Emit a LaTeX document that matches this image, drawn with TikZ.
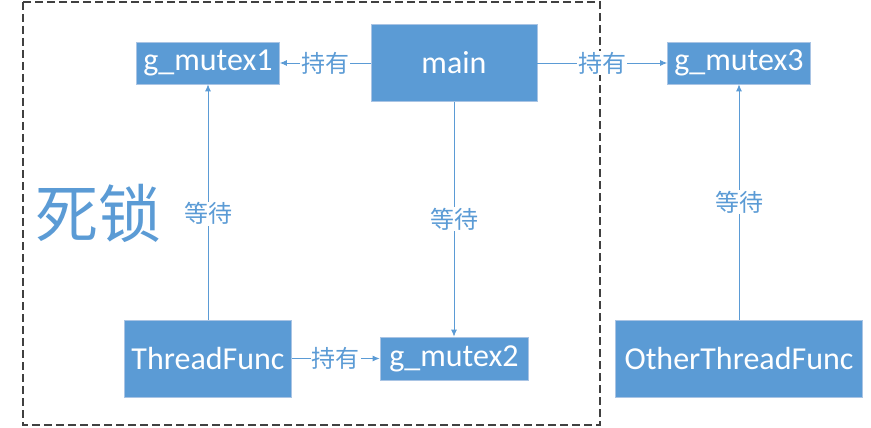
\documentclass[tikz,border=0pt]{standalone}
\usepackage{fontspec}
\setmainfont{Carlito}
\newfontfamily\cjk{Noto Sans CJK SC}
\usetikzlibrary{arrows.meta}
\definecolor{boxblue}{HTML}{5B9BD5}
\definecolor{boxline}{HTML}{A9C4E4}
\definecolor{framegray}{HTML}{404040}

\begin{document}
\begin{tikzpicture}[x=1pt,y=-1pt]
\tikzstyle{box}=[rectangle,fill=boxblue,draw=boxline,line width=0.8pt,text=white,font=\fontsize{32}{34}\selectfont,inner sep=0pt]
\tikzstyle{link}=[draw=boxblue,line width=0.8pt,-{Latex[length=7pt,width=6pt]}]
\tikzstyle{lbl}=[fill=white,text=boxblue,font=\cjk\fontsize{24}{26}\selectfont,inner sep=1pt]
\useasboundingbox (0,0) rectangle (871,428);
\draw[framegray,line width=1.3pt,dash pattern=on 8pt off 4pt] (23,2) rectangle (600,425);
\node[text=boxblue,font=\cjk\fontsize{63}{66}\selectfont] (deadlock) at (98,213) {死锁};
\foreach \name/\point/\w/\h/\txt in {
	m1/{208,63}/143/42/g\_mutex1,
	main/{454,63}/166/77/main,
	m3/{739,63}/143/42/g\_mutex3,
	tf/{208,358.5}/167/77/ThreadFunc,
	m2/{454,358.5}/148/43/g\_mutex2,
	otf/{739,358.5}/247/77/OtherThreadFunc}
	\node[box,minimum width=\w pt,minimum height=\h pt] (\name) at (\point) {\txt};
	\draw[link] (main) -- (m1) node[lbl,midway] {持有};
	\draw[link] (main) -- (m3) node[lbl,midway] {持有};
	\draw[link] (main) -- (m2) node[lbl,midway] {等待};
	\draw[link] (tf) -- (m1) node[lbl,pos=0.45] {等待};
	\draw[link] (tf) -- (m2) node[lbl,midway] {持有};
	\draw[link] (otf) -- (m3) node[lbl,midway] {等待};
\end{tikzpicture}
\end{document}
